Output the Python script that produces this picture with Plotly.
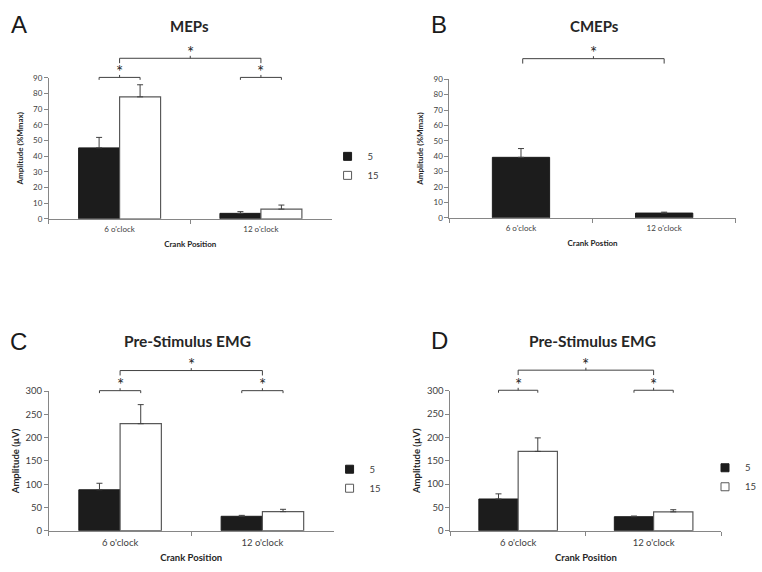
import plotly.graph_objects as go

# crank position categories
crank = ["6 o'clock", "12 o'clock"]

# A - MEPs (%Mmax)
mep_5 = [45.3, 3.5]
mep_5_err = [6.7, 1.1]
mep_15 = [77.9, 6.2]
mep_15_err = [7.7, 2.6]

# B - CMEPs (%Mmax), one group only
cmep_5 = [39.3, 3.1]
cmep_5_err = [5.7, 0.6]

# C - pre-stimulus EMG (uV)
emg_c_5 = [88, 31]
emg_c_5_err = [14, 2]
emg_c_15 = [230, 41]
emg_c_15_err = [41, 5]

# D - pre-stimulus EMG (uV)
emg_d_5 = [68, 30]
emg_d_5_err = [11, 1.5]
emg_d_15 = [170, 40.5]
emg_d_15_err = [29, 4.5]

W, H = 762, 572
FONT = "Lato"
DARK = "#262626"
GREY_TXT = "#404040"
AXIS = "#868686"
BLACK_BAR = "#1c1c1c"
WHITE_EDGE = "#595959"

# plot areas in pixels: (left, right, top, bottom)
boxes = {
    "": (49, 332, 73.3, 217),
    "2": (450, 736.7, 74.7, 216),
    "3": (49, 334, 392.7, 535),
    "4": (451, 722.3, 392.3, 535),
}


def dom(box):
    l, r, t, b = box
    return [l / W, r / W], [1 - b / H, 1 - t / H]


fig = go.Figure()


def err(vals):
    return dict(type="data", array=vals, arrayminus=[0] * len(vals), symmetric=False,
                color=GREY_TXT, thickness=1, width=3)


def add_pair(n, y5, e5, y15, e15):
    w = 0.29
    fig.add_trace(go.Bar(x=crank, y=y5, error_y=err(e5), width=w, offset=-w,
                         marker=dict(color=BLACK_BAR, line=dict(color=BLACK_BAR, width=1)),
                         xaxis="x" + n, yaxis="y" + n, showlegend=False))
    fig.add_trace(go.Bar(x=crank, y=y15, error_y=err(e15), width=w, offset=0,
                         marker=dict(color="white", line=dict(color=WHITE_EDGE, width=1.2)),
                         xaxis="x" + n, yaxis="y" + n, showlegend=False))


add_pair("", mep_5, mep_5_err, mep_15, mep_15_err)
fig.add_trace(go.Bar(x=crank, y=cmep_5, error_y=err(cmep_5_err), width=0.4, offset=-0.2,
                     marker=dict(color=BLACK_BAR, line=dict(color=BLACK_BAR, width=1)),
                     xaxis="x2", yaxis="y2", showlegend=False))
add_pair("3", emg_c_5, emg_c_5_err, emg_c_15, emg_c_15_err)
add_pair("4", emg_d_5, emg_d_5_err, emg_d_15, emg_d_15_err)

# legend proxies (small squares like the original)
for lg in ["legend", "legend2", "legend3"]:
    fig.add_trace(go.Scatter(x=[None], y=[None], mode="markers", name="5", legend=lg,
                             marker=dict(symbol="square", size=8, color=BLACK_BAR,
                                         line=dict(color=BLACK_BAR, width=1))))
    fig.add_trace(go.Scatter(x=[None], y=[None], mode="markers", name="15", legend=lg,
                             marker=dict(symbol="square", size=8, color="white",
                                         line=dict(color=WHITE_EDGE, width=1))))

ytitles = {"": "Amplitude (%Mmax)", "2": "Amplitude (%Mmax)",
           "3": "Amplitude (µV)", "4": "Amplitude (µV)"}
xtitles = {"": "Crank Position", "2": "Crank Postion",
           "3": "Crank Position", "4": "Crank Position"}
ranges = {"": (90, 10), "2": (90, 10), "3": (300, 50), "4": (300, 50)}

layout = {}
for n, box in boxes.items():
    xd, yd = dom(box)
    small = n in ("", "2")
    tsize = 8 if small else 9.5
    layout["xaxis" + n] = dict(
        domain=xd, anchor="y" + n, type="category", range=[-0.5, 1.5],
        showline=True, linecolor=AXIS, linewidth=1, ticks="outside", tickson="boundaries",
        ticklen=4, tickcolor=AXIS, showgrid=False, zeroline=False, ticklabelstandoff=3,
        tickfont=dict(family=FONT, size=tsize, color=GREY_TXT),
        title=dict(text="<b>" + xtitles[n] + "</b>", standoff=7,
                   font=dict(family=FONT, size=tsize, color=DARK)))
    layout["yaxis" + n] = dict(
        domain=yd, anchor="x" + n, range=[0, ranges[n][0]], dtick=ranges[n][1],
        showline=True, linecolor=AXIS, linewidth=1, ticks="outside", ticklen=4,
        tickcolor=AXIS, showgrid=False, zeroline=False,
        tickfont=dict(family=FONT, size=tsize, color=GREY_TXT),
        title=dict(text="<b>" + ytitles[n] + "</b>", standoff=8 if small else 4,
                   font=dict(family=FONT, size=tsize, color=DARK)))

leg = dict(font=dict(family=FONT, size=9.5, color=GREY_TXT), bgcolor="rgba(0,0,0,0)",
           xanchor="left", yanchor="middle", tracegroupgap=0)
layout["legend"] = dict(leg, x=328 / W, y=1 - 163 / H)
layout["legend2"] = dict(leg, x=330 / W, y=1 - 482 / H)
layout["legend3"] = dict(leg, x=706 / W, y=1 - 480.5 / H)

fig.update_layout(**layout)

# panel letters and titles
annots = []
for letter, x, y in [("A", 19, 19), ("B", 440, 19), ("C", 19, 342), ("D", 440, 341)]:
    annots.append(dict(text=letter, x=x / W, y=1 - y / H, xref="paper", yref="paper",
                       showarrow=False, xanchor="center", yanchor="middle",
                       font=dict(family="Liberation Sans", size=24, color="#1a1a1a")))
for title, x, y, sz in [("MEPs", 190, 20, 15), ("CMEPs", 595, 20, 15),
                        ("Pre-Stimulus EMG", 188, 342, 15.5),
                        ("Pre-Stimulus EMG", 593, 342, 15.5)]:
    annots.append(dict(text="<b>" + title + "</b>", x=x / W, y=1 - y / H, xref="paper",
                       yref="paper", showarrow=False, xanchor="center", yanchor="middle",
                       font=dict(family=FONT, size=sz, color=DARK)))

# significance brackets: (axis suffix, x0, x1 in domain fractions, px above plot top, drop px)
brackets = [
    ("", 0.1775, 0.3225, 0.5, 2.5), ("", 0.6775, 0.8225, 0.5, 2.5), ("", 0.25, 0.75, 20, 5),
    ("2", 0.256, 0.75, 21, 5),
    ("3", 0.1775, 0.3225, 0.5, 2.5), ("3", 0.6775, 0.8225, 0.5, 2.5), ("3", 0.25, 0.75, 21, 5),
    ("4", 0.1775, 0.3225, 0.5, 2.5), ("4", 0.6775, 0.8225, 0.5, 2.5), ("4", 0.25, 0.75, 21, 5),
]
shapes = []
for n, x0, x1, up, drop in brackets:
    l, r, t, b = boxes[n]
    h = b - t
    yb = 1 + up / h
    ylo = yb - drop / h
    yhi = yb + 2.5 / h
    xm = (x0 + x1) / 2
    ref = dict(xref="x" + n + " domain", yref="y" + n + " domain",
               line=dict(color=GREY_TXT, width=1))
    shapes.append(dict(ref, type="line", x0=x0, x1=x1, y0=yb, y1=yb))
    shapes.append(dict(ref, type="line", x0=x0, x1=x0, y0=ylo, y1=yb))
    shapes.append(dict(ref, type="line", x0=x1, x1=x1, y0=ylo, y1=yb))
    shapes.append(dict(ref, type="line", x0=xm, x1=xm, y0=yb, y1=yhi))
    annots.append(dict(text="*", x=xm, y=yb + 6 / h, xref="x" + n + " domain",
                       yref="y" + n + " domain", showarrow=False, xanchor="center",
                       yanchor="middle", font=dict(family=FONT, size=17, color=DARK)))

fig.update_layout(
    width=W, height=H, margin=dict(l=0, r=0, t=0, b=0),
    paper_bgcolor="white", plot_bgcolor="white",
    barmode="overlay", annotations=annots, shapes=shapes,
    font=dict(family=FONT, color=DARK),
)

fig.write_html(
    "out.html",
    config={"displayModeBar": False},
    post_script=("document.documentElement.style.margin='0';"
                 "document.documentElement.style.overflow='hidden';"
                 "document.body.style.margin='0';document.body.style.overflow='hidden';"),
)
